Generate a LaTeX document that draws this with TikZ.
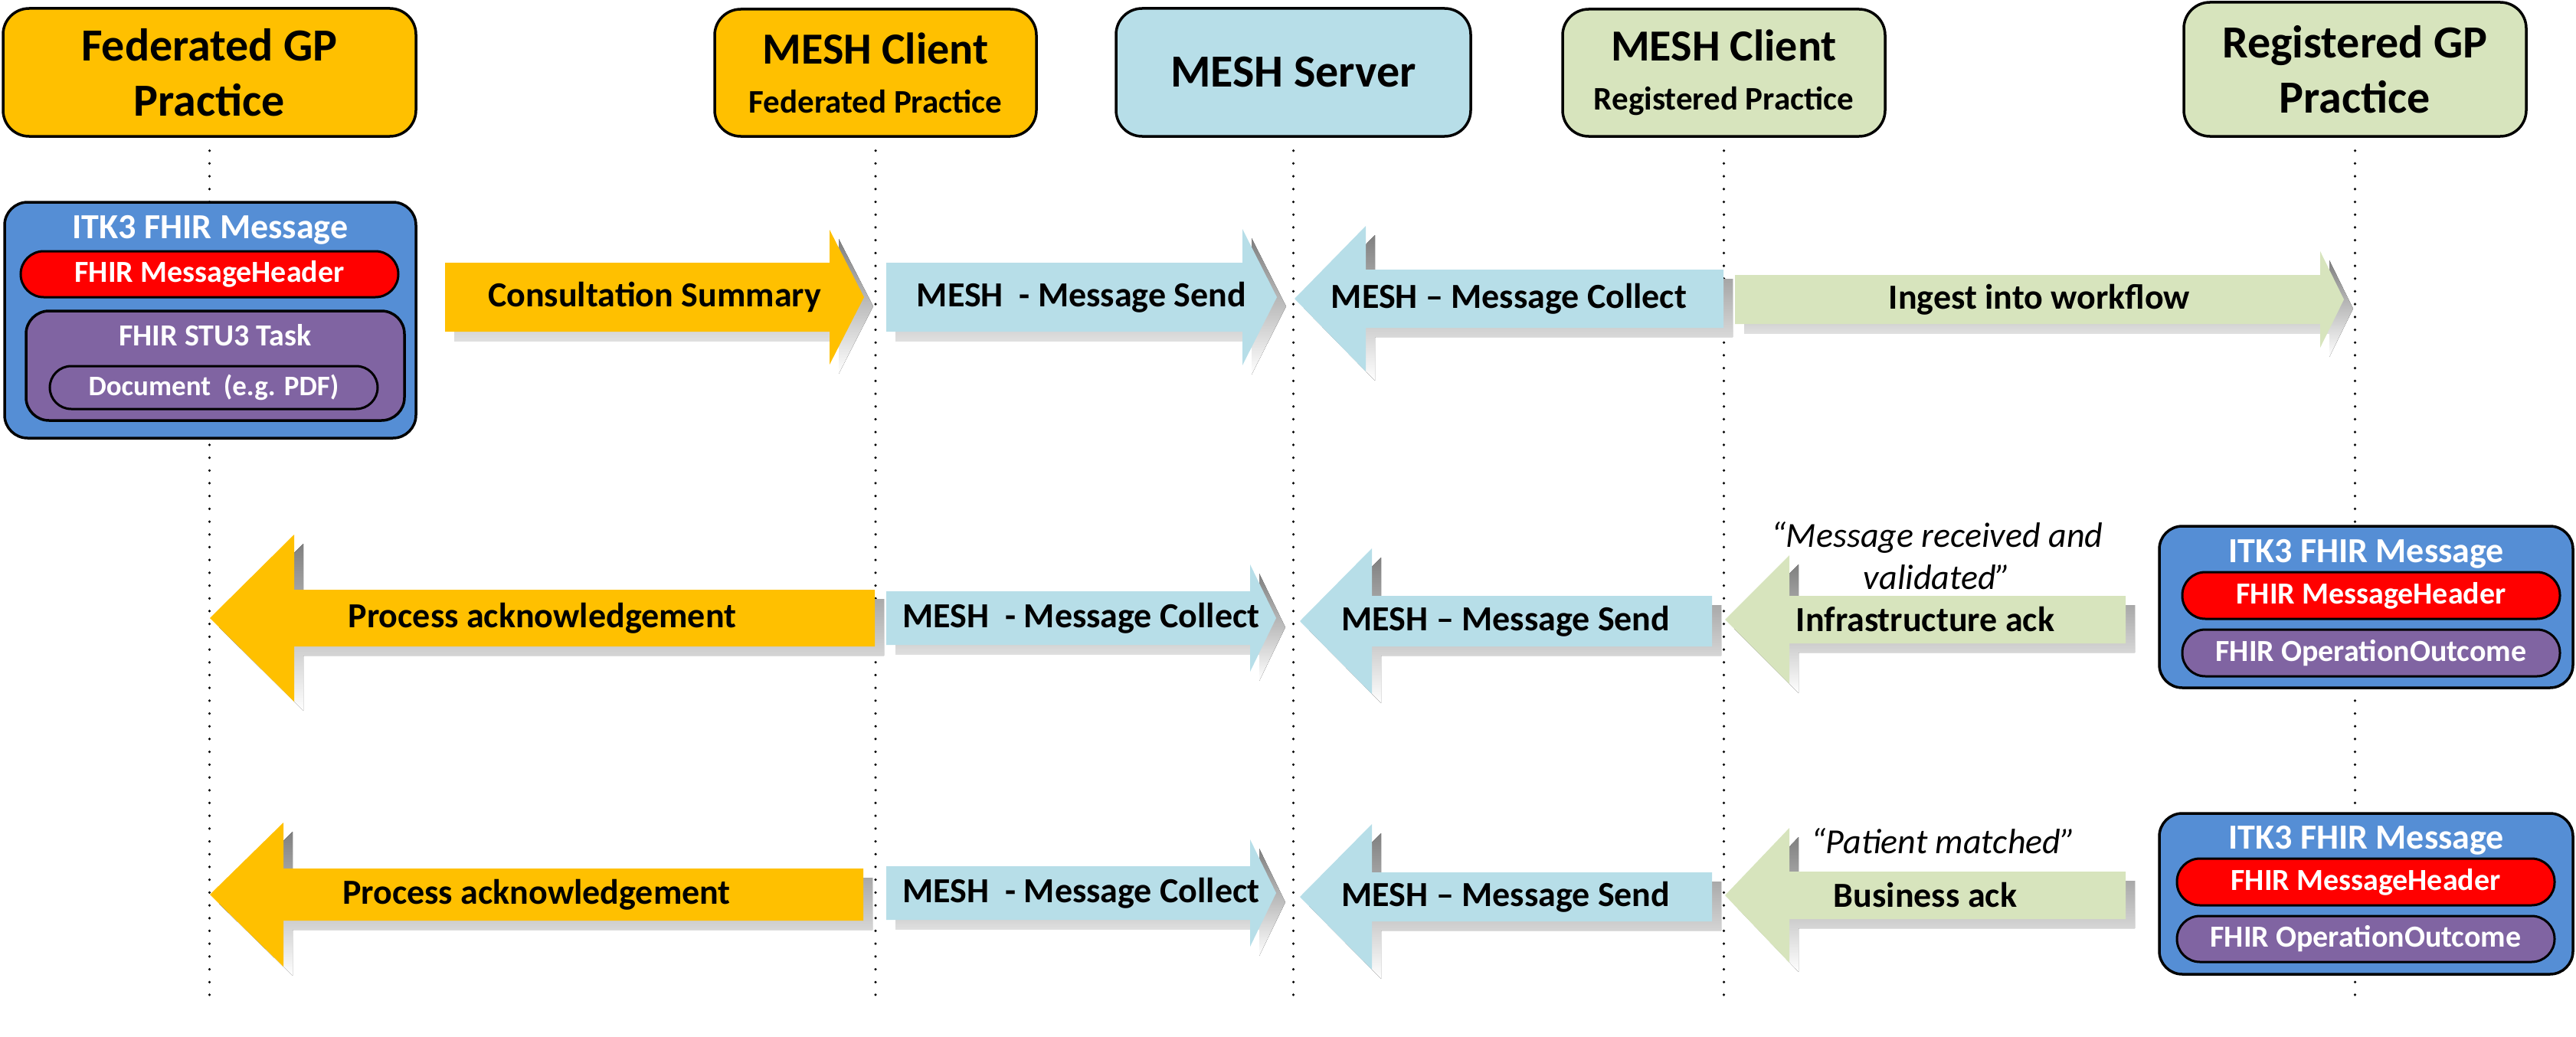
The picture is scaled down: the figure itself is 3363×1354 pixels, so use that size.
\documentclass[tikz,border=0pt]{standalone}
\usepackage{fontspec}
\setmainfont{Carlito}
\usepackage{tikz}
\definecolor{meshgold}{HTML}{FFC000}
\definecolor{meshaqua}{HTML}{B7DEE8}
\definecolor{meshgreen}{HTML}{D7E4BD}
\definecolor{itkblue}{HTML}{558ED5}
\definecolor{fhirred}{HTML}{FF0000}
\definecolor{fhirpurple}{HTML}{8064A2}
\definecolor{shade}{HTML}{E4E4E4}

\begin{document}
\begin{tikzpicture}[x=1pt, y=-1pt,
  actor/.style={draw, line width=3.5pt, rounded corners=34pt, inner sep=0pt, align=center,
    font=\bfseries\fontsize{60}{72}\selectfont},
  itk/.style={draw, line width=3.5pt, fill=itkblue, rounded corners=30pt, inner sep=0pt},
  itktitle/.style={text=white, font=\bfseries\fontsize{46}{55}\selectfont},
  pill/.style={draw, line width=3pt, rounded corners=30pt, inner sep=0pt, text=white,
    font=\bfseries\fontsize{40}{48}\selectfont},
  msg/.style={font=\bfseries\fontsize{46}{55}\selectfont},
  remark/.style={align=center, font=\itshape\fontsize{46}{55}\selectfont},
  lifeline/.style={line width=3.5pt, line cap=round, dash pattern=on 0pt off 16.7pt}]
  \useasboundingbox (0,0) rectangle (3363,1354);

  % lanes
  \node[actor, fill=meshgold, minimum width=539pt, minimum height=167pt] (fedgp) at (273.5,94.5) {Federated GP\\Practice};
  \node[actor, fill=meshgold, minimum width=420pt, minimum height=166pt] (clientfed) at (1143,95)
    {\fontsize{58}{60}\selectfont MESH Client\\[-8pt]{\fontsize{43}{50}\selectfont Federated Practice}};
  \node[actor, fill=meshaqua, minimum width=463pt, minimum height=167pt] (server) at (1688.5,94.5) {MESH Server};
  \node[actor, fill=meshgreen, minimum width=421pt, minimum height=166pt] (clientreg) at (2250.5,95)
    {\fontsize{58}{60}\selectfont MESH Client\\[-8pt]{\fontsize{43}{50}\selectfont Registered Practice}};
  \node[actor, fill=meshgreen, minimum width=447pt, minimum height=175pt] (reggp) at (3074.5,90.5) {Registered GP\\Practice};

  \coordinate (bottom) at (0,1309);
  \foreach \n in {fedgp, clientfed, server, clientreg, reggp}
    \draw[lifeline] ([yshift=-17pt]\n.south) -- (\n.south |- bottom);

  % messages
  \foreach \t/\b/\p/\c/\h/\H/\col/\nm/\txt in {
    581/1083/1128/388/45/88/meshgold/consult/Consultation Summary,
    1157/1622/1667/388/45/89/meshaqua/sendA/MESH~ - Message Send,
    2250/1783/1690/390/38/95/meshaqua/collectA/MESH – Message Collect,
    2265/3029/3060/391/32/63/meshgreen/ingest/Ingest into workflow,
    1142/384/274/807/37/109/meshgold/ackA/Process acknowledgement,
    1157/1632/1666/807/35/70/meshaqua/collectB/MESH~ - Message Collect,
    2235/1791/1697/811/33/95/meshaqua/sendB/MESH – Message Send,
    2775/2336/2252/809/31/84/meshgreen/infra/Infrastructure ack,
    1127/370/274/1168/34/94/meshgold/ackB/Process acknowledgement,
    1157/1632/1666/1166/35/70/meshaqua/collectC/MESH~ - Message Collect,
    2235/1791/1697/1171/32/95/meshaqua/sendC/MESH – Message Send,
    2775/2336/2252/1169/31/88/meshgreen/business/Business ack}
  { \fill[shade, shift={(12,12)}] (\t,\c-\h) -- (\b,\c-\h) -- (\b,\c-\H) -- (\p,\c)
      -- (\b,\c+\H) -- (\b,\c+\h) -- (\t,\c+\h) -- cycle;
    \fill[\col] (\t,\c-\h) -- (\b,\c-\h) -- (\b,\c-\H) -- (\p,\c)
      -- (\b,\c+\H) -- (\b,\c+\h) -- (\t,\c+\h) -- cycle;
    \node[msg] (\nm) at ({(\t+\p)/2},\c) {\txt};}

  \node[remark] (quoteA) at (2529,726) {“Message received and\\validated”};
  \node[remark] (quoteB) at (2537,1098) {“Patient matched”};

  % ITK3 message, federated side
  \node[itk, minimum width=537pt, minimum height=308pt] (itkL) at (274.5,418) {};
  \node[itktitle] (itkLtitle) at (274.5,300) {ITK3 FHIR Message};
  \node[pill, fill=fhirred, minimum width=493pt, minimum height=60pt] (hdrL) at (273.5,358) {FHIR MessageHeader};
  \node[itk, fill=fhirpurple, minimum width=494pt, minimum height=143pt] (taskL) at (281,477.5) {};
  \node[itktitle, font=\bfseries\fontsize{40}{48}\selectfont] (taskLtitle) at (281,438) {FHIR STU3 Task};
  \node[pill, fill=fhirpurple, minimum width=428pt, minimum height=56pt, rounded corners=28pt,
    font=\bfseries\fontsize{37}{44}\selectfont] (docL) at (279,506) {Document~ (e.g. PDF)};

  % ITK3 acks, registered side
  \node[itk, minimum width=540pt, minimum height=211pt] (itkR) at (3089,792.5) {};
  \node[itktitle] (itkRtitle) at (3089,723) {ITK3 FHIR Message};
  \node[pill, fill=fhirred, minimum width=493pt, minimum height=61pt] (hdrR) at (3095.5,777.5) {FHIR MessageHeader};
  \node[pill, fill=fhirpurple, minimum width=493pt, minimum height=61pt] (outR) at (3095.5,852.5) {FHIR OperationOutcome};

  \node[itk, minimum width=540pt, minimum height=210pt] (itkB) at (3089,1167) {};
  \node[itktitle] (itkBtitle) at (3089,1097) {ITK3 FHIR Message};
  \node[pill, fill=fhirred, minimum width=493pt, minimum height=61pt] (hdrB) at (3088.5,1151.5) {FHIR MessageHeader};
  \node[pill, fill=fhirpurple, minimum width=493pt, minimum height=60pt] (outB) at (3088.5,1226) {FHIR OperationOutcome};
\end{tikzpicture}
\end{document}
